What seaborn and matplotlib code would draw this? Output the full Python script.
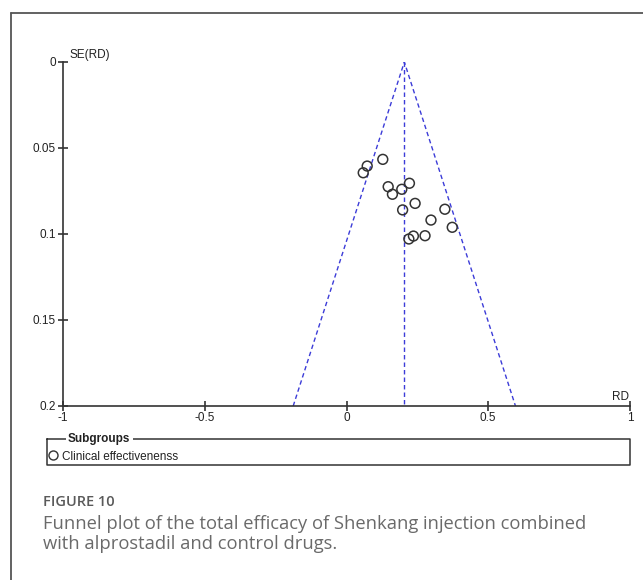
import numpy as np
import pandas as pd
import matplotlib
matplotlib.use("Agg")
import matplotlib.pyplot as plt
from matplotlib.lines import Line2D
import seaborn as sns

# ---- data ----
rd = [0.128, 0.073, 0.059, 0.147, 0.162, 0.195, 0.222, 0.242, 0.198,
      0.347, 0.298, 0.373, 0.277, 0.236, 0.220]
se_rd = [0.0566, 0.0605, 0.0644, 0.0725, 0.0769, 0.0740, 0.0705, 0.0822,
         0.0860, 0.0856, 0.0919, 0.0961, 0.1010, 0.1012, 0.1029]
pooled_rd = 0.204
se_max = 0.2
x_ticks = [-1, -0.5, 0, 0.5, 1]
x_tick_labels = ["-1", "-0.5", "0", "0.5", "1"]
y_ticks = [0, 0.05, 0.1, 0.15, 0.2]
y_tick_labels = ["0", "0.05", "0.1", "0.15", "0.2"]
subgroup_label = "Clinical effectivenenss"

df = pd.DataFrame({"RD": rd, "SE": se_rd})
funnel = pd.DataFrame({
    "RD": [pooled_rd - 1.96 * se_max, pooled_rd, pooled_rd + 1.96 * se_max],
    "SE": [se_max, 0, se_max],
})
center = pd.DataFrame({"RD": [pooled_rd, pooled_rd], "SE": [0, se_max]})

sns.set_theme(style="white")
plt.rcParams["font.family"] = ["Liberation Sans", "DejaVu Sans"]

W, H = 643, 580
fig = plt.figure(figsize=(W / 100, H / 100), dpi=100)
fig.patch.set_facecolor("white")
ax = fig.add_axes([63 / W, 1 - 406 / H, (630 - 63) / W, (406 - 62) / H])
ax.set_facecolor("white")

blue = "#3c3cd8"
ax.plot(funnel["RD"], funnel["SE"], color=blue, lw=1.0, dashes=(3.2, 2.2))
ax.plot(center["RD"], center["SE"], color=blue, lw=1.0, dashes=(3.2, 2.2))

sns.scatterplot(data=df, x="RD", y="SE", ax=ax, marker="o", s=50,
                facecolor="none", edgecolor="#333333", linewidth=1.1,
                legend=False, zorder=3)

ax.set_xlim(-1, 1)
ax.set_ylim(se_max, 0)
ax.set_xticks(x_ticks)
ax.set_xticklabels(x_tick_labels)
ax.set_yticks(y_ticks)
ax.set_yticklabels(y_tick_labels)
ax.set_xlabel("")
ax.set_ylabel("")
for s in ["top", "right"]:
    ax.spines[s].set_visible(False)
for s in ["left", "bottom"]:
    ax.spines[s].set_color("#333333")
    ax.spines[s].set_linewidth(1.2)
ax.tick_params(axis="both", direction="inout", length=7, width=1.2,
               color="#333333", labelsize=8.5, labelcolor="#222222", pad=1.0,
               bottom=True, left=True)
ax.tick_params(axis="y", pad=1.5)

fig.text(69 / W, 1 - 55 / H, "SE(RD)", fontsize=8.5,
         ha="left", va="center", color="#222222")
fig.text(629 / W, 1 - 397 / H, "RD", fontsize=8.5,
         ha="right", va="center", color="#222222")

# frame around panel
fig.add_artist(Line2D([11 / W, 11 / W], [0, 1 - 13 / H], transform=fig.transFigure,
                      color="#555555", lw=1.3))
fig.add_artist(Line2D([11 / W, 1], [1 - 13 / H, 1 - 13 / H], transform=fig.transFigure,
                      color="#555555", lw=1.3))

# legend box
lx0, lx1 = 47 / W, 630 / W
ly0, ly1 = 1 - 465 / H, 1 - 439 / H
box_kw = dict(transform=fig.transFigure, color="#333333", lw=1.1)
fig.add_artist(Line2D([lx0, lx1, lx1, lx0, lx0], [ly1, ly1, ly0, ly0, ly1], **box_kw))
fig.text(68 / W, ly1, "Subgroups", fontsize=8.5, fontweight="bold", color="#222222",
         ha="left", va="center",
         bbox=dict(facecolor="white", edgecolor="none", pad=1.5))
handle = Line2D([], [], marker="o", ls="none", mfc="none", mec="#333333",
                mew=1.0, ms=6.5)
fig.legend(handles=[handle], labels=[subgroup_label], loc="center left",
           bbox_to_anchor=(48 / W, 1 - 456.5 / H), frameon=False,
           handletextpad=0.3, borderaxespad=0, borderpad=0, handlelength=0.9,
           fontsize=8.5, labelcolor="#222222")

# caption
cap_font = ["Open Sans", "DejaVu Sans"]
fig.text(43 / W, 1 - 502 / H, "FIGURE 10", family=cap_font, fontsize=10.5,
         fontweight="semibold", color="#5a5a5a", ha="left", va="center")
fig.text(43 / W, 1 - 524 / H,
         "Funnel plot of the total efficacy of Shenkang injection combined",
         family=cap_font, fontsize=13.2, color="#6a6a6a", ha="left", va="center")
fig.text(43 / W, 1 - 544 / H, "with alprostadil and control drugs.",
         family=cap_font, fontsize=13.2, color="#6a6a6a", ha="left", va="center")

fig.savefig("out.png", dpi=100, facecolor="white")
